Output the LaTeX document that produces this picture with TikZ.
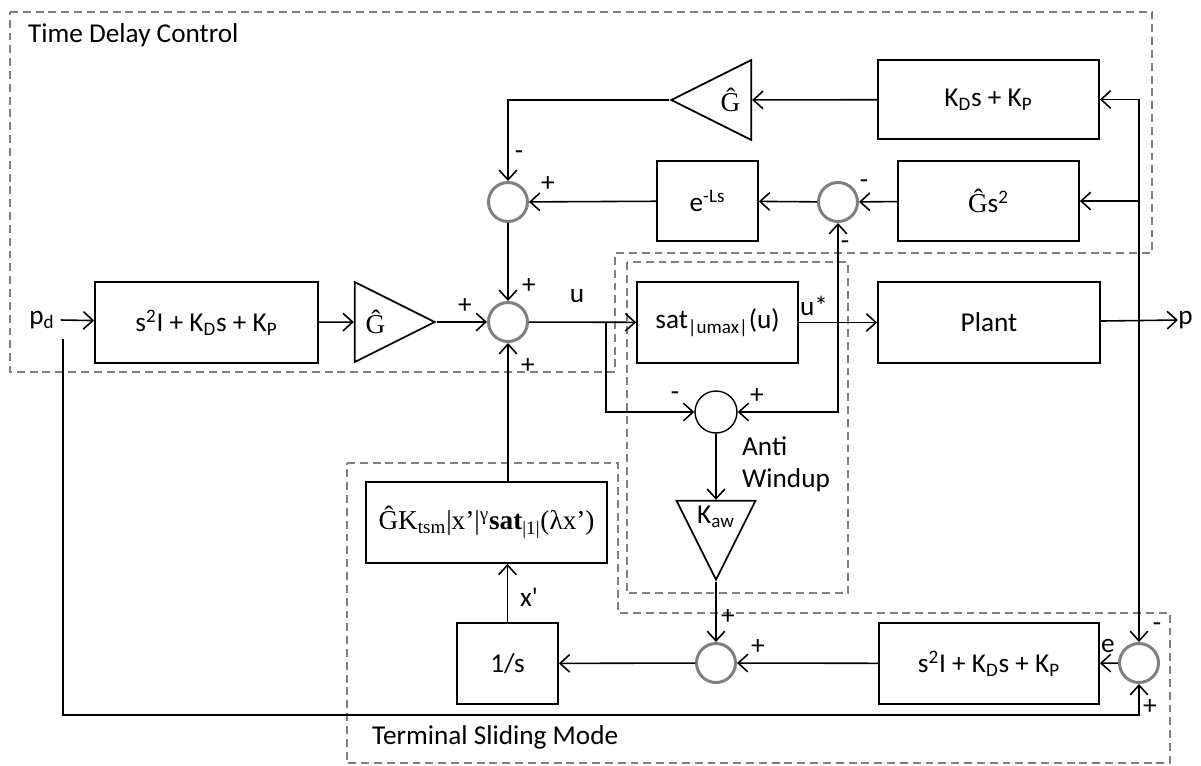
\documentclass[tikz,border=0pt]{standalone}
\usepackage{fontspec}
\setmainfont{Carlito}
\newfontfamily\serif{Liberation Serif}
\usepackage{tikz}
\usetikzlibrary{arrows.meta,shapes.geometric}

\begin{document}
\begin{tikzpicture}[
x=0.02cm,
y=-0.02cm,
>={Straight Barb[length=5.5pt,width=10pt]},
font=\fontsize{15.5}{18}\selectfont,
block/.style={
draw,
line width=1pt,
minimum height=1.62cm,
inner sep=2pt,
align=center
},
sumg/.style={
circle,
draw=gray,
line width=1.7pt,
minimum size=0.78cm,
inner sep=0pt
},
sumk/.style={
circle,
draw,
line width=0.8pt,
minimum size=0.84cm,
inner sep=0pt
},
gain/.style={
isosceles triangle,
isosceles triangle stretches,
draw,
line width=1pt,
inner sep=1pt,
minimum width=1.6cm,
minimum height=1.6cm
},
region/.style={
draw=gray,
dash pattern=on 4.5pt off 2.8pt,
line width=0.85pt
},
sig/.style={->,line width=0.9pt},
sign/.style={inner sep=1pt}
]

\useasboundingbox (0,0) rectangle (1201,765);

%%%%%%%%%%%%%%%%%%%%%%%%%%%%%%%%%%%%
% Regions
%%%%%%%%%%%%%%%%%%%%%%%%%%%%%%%%%%%%

\draw[region] (10,12) -- (1152,12) -- (1152,253) -- (615,253)
-- (615,372) -- (10,372) -- cycle;

\draw[region] (627,262) rectangle (848,593);

\draw[region] (347,463) -- (618,463) -- (618,613) -- (1170,613)
-- (1170,763) -- (347,763) -- cycle;

\node[anchor=west] (tdclbl) at (22,35) {Time Delay Control};

\node[anchor=west] (tsmlbl) at (366,737) {Terminal Sliding Mode};

\node[anchor=west,align=left] (awlbl) at (736,464) {Anti\\Windup};

%%%%%%%%%%%%%%%%%%%%%%%%%%%%%%%%%%%%
% Forward path
%%%%%%%%%%%%%%%%%%%%%%%%%%%%%%%%%%%%

\node (pd) at (42,320) {p\textsubscript{d}};

\node[block,minimum width=4.46cm] (ref) at (206.5,322.5)
{s\textsuperscript{2}I + K\textsubscript{D}s + K\textsubscript{P}};

\node[gain,anchor=apex] (gfwd) at (437,322) {\serif Ĝ};

\node[sumg] (sum) at (508,322) {};

\node[block,minimum width=3.22cm] (sat) at (717.5,322.5)
{sat\textsubscript{|umax|}(u)};

\node[block,minimum width=4.44cm] (plant) at (989,322.5) {Plant};

\node[anchor=west,inner sep=0pt] (pout) at (1178,320) {p};

%%%%%%%%%%%%%%%%%%%%%%%%%%%%%%%%%%%%
% Time delay estimation
%%%%%%%%%%%%%%%%%%%%%%%%%%%%%%%%%%%%

\node[block,minimum width=4.42cm,minimum height=1.58cm] (kp) at (988.5,99.5)
{K\textsubscript{D}s + K\textsubscript{P}};

\node[gain,shape border rotate=180,anchor=apex] (gfb) at (669,100) {\serif Ĝ};

\node[block,minimum width=3.62cm,minimum height=1.6cm] (gs2) at (988.5,201)
{{\serif Ĝ}s\textsuperscript{2}};

\node[sumg] (msum) at (838,202) {};

\node[block,minimum width=2.02cm,minimum height=1.6cm] (delay) at (707.5,201)
{e\textsuperscript{-Ls}};

\node[sumg] (tsum) at (508,202) {};

%%%%%%%%%%%%%%%%%%%%%%%%%%%%%%%%%%%%
% Anti windup
%%%%%%%%%%%%%%%%%%%%%%%%%%%%%%%%%%%%

\node[sumk] (awsum) at (716,412) {};

\node[gain,shape border rotate=270,anchor=apex,minimum width=1.58cm,minimum height=1.58cm]
(kaw) at (716,582) {K\textsubscript{aw}};

%%%%%%%%%%%%%%%%%%%%%%%%%%%%%%%%%%%%
% Terminal sliding mode
%%%%%%%%%%%%%%%%%%%%%%%%%%%%%%%%%%%%

\node[block,minimum width=4.82cm] (tsm) at (486.5,522.5)
{\serif ĜK\textsubscript{tsm}|x’|\textsuperscript{γ}\textbf{sat}\textsubscript{|1|}(λx’)};

\node[block,minimum width=2.02cm] (integ) at (507.5,663.5) {1/s};

\node[sumg] (bsum) at (716,663) {};

\node[block,minimum width=4.4cm] (err) at (989,663.5)
{s\textsuperscript{2}I + K\textsubscript{D}s + K\textsubscript{P}};

\node[sumg] (esum) at (1139,663) {};

%%%%%%%%%%%%%%%%%%%%%%%%%%%%%%%%%%%%
% Branch points
%%%%%%%%%%%%%%%%%%%%%%%%%%%%%%%%%%%%

\coordinate (bu) at (606,322);
\coordinate (bs) at (838,322);
\coordinate (bp) at (1139,322);
\coordinate (pdtap) at (63,339);
\coordinate (pdlow) at (1139,715);

%%%%%%%%%%%%%%%%%%%%%%%%%%%%%%%%%%%%
% Connections
%%%%%%%%%%%%%%%%%%%%%%%%%%%%%%%%%%%%

\draw[sig] (pd.east) -- (ref);

\draw[sig] (ref) -- (gfwd);

\draw[sig] (gfwd.apex) -- (sum);

\draw[sig] (sum) -- (sat);

\draw[sig] (sat) -- (plant);

\draw[sig] (plant) -- (pout.west);

\draw[sig] (bp) |- (kp.east);

\draw[sig] (bp) |- (gs2.east);

\draw[sig] (bp) -- (esum);

\draw[sig] (kp) -- (gfb);

\draw[sig] (gfb.apex) -| (tsum);

\draw[sig] (gs2) -- (msum);

\draw[sig] (msum) -- (delay);

\draw[sig] (delay) -- (tsum);

\draw[sig] (tsum) -- (sum);

\draw[sig] (bs) -- (msum);

\draw[sig] (bs) |- (awsum);

\draw[sig] (bu) |- (awsum);

\draw[sig] (awsum) -- (kaw);

\draw[sig] (kaw.apex) -- (bsum);

\draw[sig] (esum) -- (err);

\draw[sig] (err) -- (bsum);

\draw[sig] (bsum) -- (integ);

\draw[sig] (integ) -- (integ |- tsm.south);

\draw[sig] (tsm.north -| sum) -- (sum);

\draw[sig] (pdtap) |- (pdlow) -- (esum);

%%%%%%%%%%%%%%%%%%%%%%%%%%%%%%%%%%%%
% Signs and signal names
%%%%%%%%%%%%%%%%%%%%%%%%%%%%%%%%%%%%

\node[sign] (s1) at (465,306) {+};
\node[sign] (s2) at (529,286) {+};
\node[sign] (s3) at (528,366) {+};
\node[sign] (s4) at (519,155) {-};
\node[sign] (s5) at (548,184) {+};
\node[sign] (s6) at (864,184) {-};
\node[sign] (s7) at (845,245) {-};
\node[sign] (s8) at (675,396) {-};
\node[sign] (s9) at (757,396) {+};
\node[sign] (s10) at (728,617) {+};
\node[sign] (s11) at (758,647) {+};
\node[sign] (s12) at (1157,627) {-};
\node[sign] (s13) at (1150,707) {+};

\node (ulbl) at (577,296) {u};
\node (ustar) at (814,306) {u*};
\node (xlbl) at (529,597) {x\textquotesingle};
\node (elbl) at (1108,646) {e};

\end{tikzpicture}
\end{document}
